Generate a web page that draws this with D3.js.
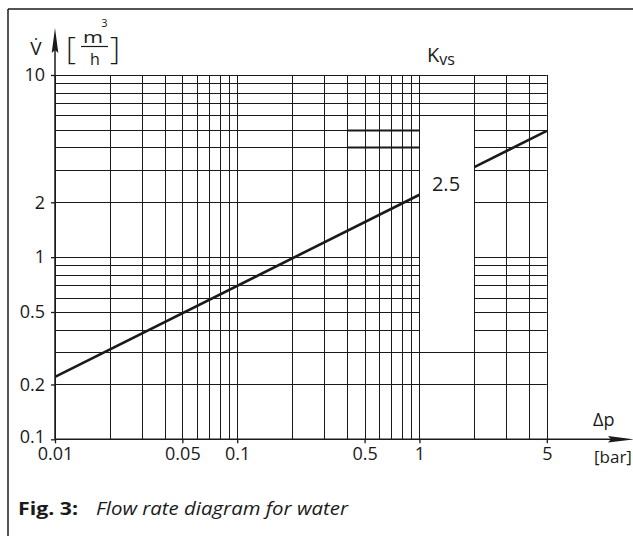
<!DOCTYPE html>
<html><head><meta charset="utf-8">
<script src="https://cdn.jsdelivr.net/npm/d3@7"></script>
<style>
body{margin:0;background:#fff;}
svg{display:block;font-family:"Open Sans","Noto Sans",sans-serif;}
</style></head>
<body>
<svg id="c" width="633" height="536"></svg>
<script>
// ---- data ----
const xGridValues = [0.01,0.02,0.03,0.04,0.05,0.06,0.07,0.08,0.09,0.1,0.2,0.3,0.4,0.5,0.6,0.7,0.8,0.9,1,2,3,4,5];
const yGridValues = [0.1,0.2,0.3,0.4,0.5,0.6,0.7,0.8,0.9,1,2,3,4,5,6,7,8,9,10];
const xTickValues = [0.01,0.05,0.1,0.5,1,5];
const xTickLabels = ["0.01","0.05","0.1","0.5","1","5"];
const yTickValues = [0.1,0.2,0.5,1,2,10];
const yTickLabels = ["0.1","0.2","0.5","1","2","10"];
// Kvs 2.5 curve (two segments, broken at the label gap)
const seg1Dp = [0.01, 1];
const seg1Q  = [0.22, 2.2];
const seg2Dp = [2, 5];
const seg2Q  = [3.12, 4.93];
const kvsLabel = "2.5";
// label gap in the grid (Δp between 1 and 2, flow 0.4..5 lines omitted)
const gapX = [1, 2];
const gapYValues = [0.4,0.5,0.6,0.7,0.8,0.9,1,2,3,4,5];

const svg = d3.select("#c");
const x = d3.scaleLog().domain([0.01, 5]).range([55, 546.8]);
const y = d3.scaleLog().domain([0.1, 10]).range([439.3, 75]);
const ink = "#1a1a1a";

// frame
svg.append("line").attr("x1",8).attr("x2",633).attr("y1",9).attr("y2",9).attr("stroke",ink).attr("stroke-width",1.5);
svg.append("line").attr("x1",8).attr("x2",8).attr("y1",9).attr("y2",536).attr("stroke",ink).attr("stroke-width",1.5);

const grid = svg.append("g").attr("stroke",ink).attr("stroke-width",1);
grid.selectAll("line.v").data(xGridValues).join("line")
  .attr("x1",d=>Math.round(x(d))+0.5).attr("x2",d=>Math.round(x(d))+0.5)
  .attr("y1",y(10)).attr("y2",y(0.1));
const hSegs = [];
yGridValues.forEach(v=>{
  if (gapYValues.includes(v)) {
    hSegs.push({v, a:0.01, b:gapX[0]});
    hSegs.push({v, a:gapX[1], b:5});
  } else hSegs.push({v, a:0.01, b:5});
});
grid.selectAll("line.h").data(hSegs).join("line")
  .attr("x1",d=>x(d.a)).attr("x2",d=>x(d.b))
  .attr("y1",d=>Math.round(y(d.v))+0.5).attr("y2",d=>Math.round(y(d.v))+0.5);
grid.selectAll("line.r").data([4,5]).join("line")
  .attr("x1",x(0.4)).attr("x2",x(1))
  .attr("y1",d=>Math.round(y(d))+0.5).attr("y2",d=>Math.round(y(d))+0.5)
  .attr("stroke-width",2);

// curve
const line = d3.line().x(d=>x(d[0])).y(d=>y(d[1]));
[[seg1Dp,seg1Q],[seg2Dp,seg2Q]].forEach(([dp,q])=>{
  svg.append("path").datum(d3.zip(dp,q)).attr("d",line)
    .attr("fill","none").attr("stroke",ink).attr("stroke-width",2.6);
});
svg.append("text").attr("x",446).attr("y",190.5).attr("text-anchor","middle")
  .attr("font-size",20).attr("fill",ink).text(kvsLabel);

// axes
const fs = 18;
const xAxis = d3.axisBottom(x).tickValues(xTickValues)
  .tickFormat((d,i)=>xTickLabels[i]).tickSize(4).tickPadding(4);
const gx = svg.append("g").attr("transform",`translate(0,${y(0.1)})`).call(xAxis);
gx.select(".domain").remove();
gx.selectAll("line").attr("stroke",ink).attr("stroke-width",1.3);
gx.selectAll("text").attr("font-size",fs).attr("fill",ink).attr("font-family","Open Sans");

const yAxis = d3.axisLeft(y).tickValues(yTickValues)
  .tickFormat((d,i)=>yTickLabels[i]).tickSize(4).tickPadding(6);
const gy = svg.append("g").attr("transform",`translate(${x(0.01)},0)`).call(yAxis);
gy.select(".domain").remove();
gy.selectAll("line").attr("stroke",ink).attr("stroke-width",1.3);
gy.selectAll("text").attr("font-size",fs).attr("fill",ink).attr("font-family","Open Sans")
  .attr("dy",(d)=> d===0.1 ? "0.2em" : "0.32em");

// axis lines with arrows
const x0 = x(0.01), y0 = y(0.1);
svg.append("line").attr("x1",x0).attr("x2",612).attr("y1",y0).attr("y2",y0).attr("stroke",ink).attr("stroke-width",1.5);
svg.append("path").attr("d",`M608,${y0-3.2} L634,${y0} L608,${y0+3.2} L611,${y0} Z`).attr("fill",ink);
svg.append("line").attr("x1",x0).attr("x2",x0).attr("y1",y0).attr("y2",50).attr("stroke",ink).attr("stroke-width",1.5);
svg.append("path").attr("d",`M${x0},28 L${x0+3.3},53 L${x0},50 L${x0-3.3},53 Z`).attr("fill",ink);

// axis titles
svg.append("text").attr("x",36).attr("y",55).attr("text-anchor","middle").attr("font-size",19).attr("fill",ink).text("V\u0307");
svg.append("text").attr("x",66).attr("y",59).attr("font-size",31).attr("font-weight",300).attr("fill",ink).text("[");
svg.append("text").attr("x",110).attr("y",59).attr("font-size",31).attr("font-weight",300).attr("fill",ink).text("]");
svg.append("text").attr("x",93).attr("y",42.5).attr("text-anchor","middle").attr("font-size",16)
  .attr("textLength",20).attr("lengthAdjust","spacingAndGlyphs").attr("fill",ink).text("m");
svg.append("text").attr("x",104.5).attr("y",27).attr("text-anchor","middle").attr("font-size",11).attr("fill",ink).text("3");
svg.append("line").attr("x1",81).attr("x2",108).attr("y1",46.5).attr("y2",46.5).attr("stroke",ink).attr("stroke-width",1.2);
svg.append("text").attr("x",95).attr("y",64.5).attr("text-anchor","middle").attr("font-size",16).attr("fill",ink).text("h");

const kv = svg.append("text").attr("x",427).attr("y",62).attr("font-size",20).attr("fill",ink);
kv.append("tspan").text("K");
kv.append("tspan").attr("font-size",16).attr("dy",3).text("vs");

svg.append("text").attr("x",593).attr("y",426).attr("font-size",fs).attr("fill",ink).text("\u0394p");
svg.append("text").attr("x",594).attr("y",463).attr("font-size",17).attr("fill",ink).text("[bar]");

// caption
svg.append("text").attr("x",18).attr("y",515).attr("font-size",18).attr("font-weight",700)
  .attr("textLength",60).attr("lengthAdjust","spacingAndGlyphs").attr("fill",ink).text("Fig. 3:");
svg.append("text").attr("x",96).attr("y",515).attr("font-size",18).attr("font-style","italic")
  .attr("textLength",252).attr("lengthAdjust","spacingAndGlyphs").attr("fill",ink).text("Flow rate diagram for water");
</script>
</body></html>
